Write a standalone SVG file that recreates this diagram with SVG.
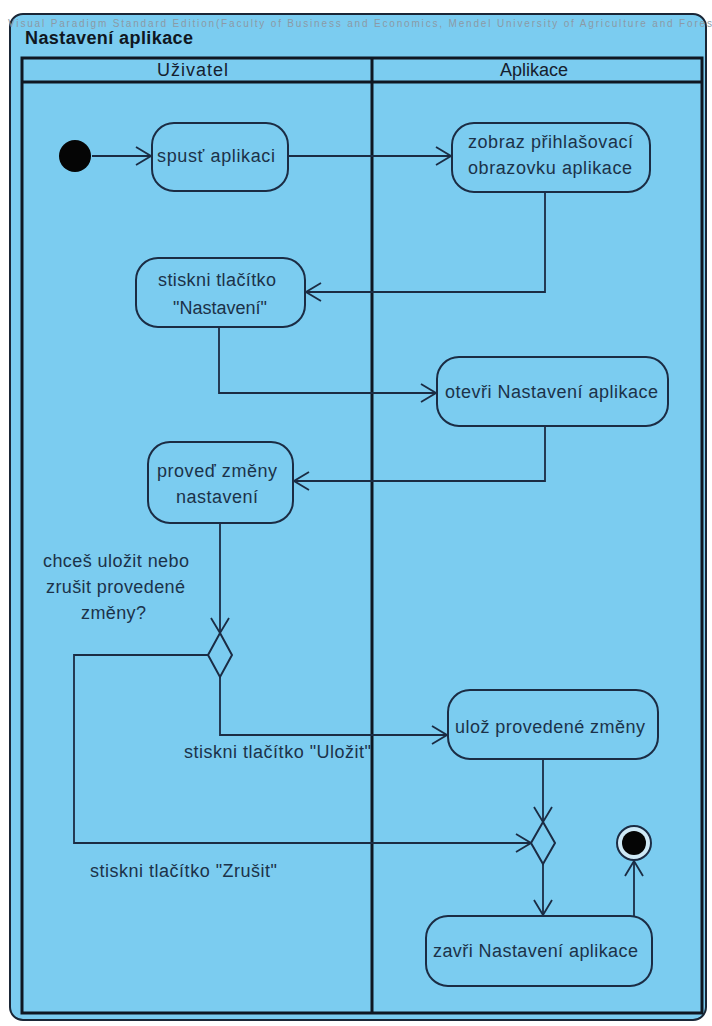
<svg xmlns="http://www.w3.org/2000/svg" width="712" height="1026" viewBox="0 0 712 1026">
  <style>
    .frame { fill: #7bccf0; stroke: #1a2636; stroke-width: 2; }
    .lane { fill: none; stroke: #0f1722; stroke-width: 3; }
    .act { fill: #7bccf0; stroke: #1b2c44; stroke-width: 2; }
    .edge { fill: none; stroke: #1b2c44; stroke-width: 1.8; }
    .lbl { font-family: "Liberation Sans", Arial, sans-serif; font-size: 18px; fill: #1c3249; }
    .hdr { font-family: "Liberation Sans", Arial, sans-serif; font-size: 18px; fill: #15202e; }
    .title { font-family: "Liberation Sans", Arial, sans-serif; font-size: 18px; font-weight: bold; fill: #0f1722; }
    .wm { font-family: "Liberation Sans", Arial, sans-serif; font-size: 10px; fill: #8b9aa6; }
  </style>
  <defs>
    <marker id="open" viewBox="-17 -11 18 22" refX="0" refY="0" markerWidth="18" markerHeight="22" markerUnits="userSpaceOnUse" orient="auto">
      <path d="M-15,-9 L0,0 L-15,9" fill="none" stroke="#1b2c44" stroke-width="1.8"/>
    </marker>
  </defs>

  <rect width="712" height="1026" fill="#ffffff"/>

  <!-- activity frame -->
  <rect class="frame" x="10" y="14" width="696" height="1006" rx="13"/>
  <text class="wm" x="8" y="27" textLength="704">Visual Paradigm Standard Edition(Faculty of Business and Economics, Mendel University of Agriculture and Fores</text>
  <text class="title" x="25" y="44" textLength="168">Nastavení aplikace</text>

  <!-- swimlanes -->
  <g id="lanes">
    <rect class="lane" x="22" y="58" width="680" height="955"/>
    <line class="lane" x1="22" y1="82" x2="702" y2="82"/>
    <line class="lane" x1="372" y1="58" x2="372" y2="1013"/>
    <text class="hdr" x="157" y="76" textLength="71">Uživatel</text>
    <text class="hdr" x="500" y="76" textLength="68">Aplikace</text>
  </g>

  <!-- connectors -->
  <g id="connectors">
    <path class="edge" d="M92,156 H151" marker-end="url(#open)"/>
    <path class="edge" d="M288,156 H451" marker-end="url(#open)"/>
    <path class="edge" d="M545,192 V292 H306" marker-end="url(#open)"/>
    <path class="edge" d="M219,327 V393 H436" marker-end="url(#open)"/>
    <path class="edge" d="M545,426 V481 H294" marker-end="url(#open)"/>
    <path class="edge" d="M220,523 V633" marker-end="url(#open)"/>
    <path class="edge" d="M220,677 V735 H447" marker-end="url(#open)"/>
    <path class="edge" d="M208,655 H74 V843 H531" marker-end="url(#open)"/>
    <path class="edge" d="M543,759 V822" marker-end="url(#open)"/>
    <path class="edge" d="M543,864 V915" marker-end="url(#open)"/>
    <path class="edge" d="M634,916 V861" marker-end="url(#open)"/>
    <text class="lbl" x="184" y="758" textLength="187">stiskni tlačítko "Uložit"</text>
    <text class="lbl" x="90" y="877" textLength="187">stiskni tlačítko "Zrušit"</text>
  </g>

  <!-- nodes -->
  <g id="start">
    <circle cx="75" cy="156" r="16" fill="#050505"/>
  </g>

  <g id="spust">
    <rect class="act" x="152" y="123" width="136" height="68" rx="22"/>
    <text class="lbl" x="157" y="162" textLength="118">spusť aplikaci</text>
  </g>

  <g id="zobraz">
    <rect class="act" x="452" y="123" width="198" height="69" rx="22"/>
    <text class="lbl" x="468" y="148" textLength="165">zobraz přihlašovací</text>
    <text class="lbl" x="468" y="174" textLength="164">obrazovku aplikace</text>
  </g>

  <g id="stiskni">
    <rect class="act" x="136" y="258" width="169" height="69" rx="22"/>
    <text class="lbl" x="158" y="286" textLength="118">stiskni tlačítko</text>
    <text class="lbl" x="173" y="314" textLength="94">"Nastavení"</text>
  </g>

  <g id="otevri">
    <rect class="act" x="437" y="357" width="231" height="69" rx="22"/>
    <text class="lbl" x="445" y="398" textLength="213">otevři Nastavení aplikace</text>
  </g>

  <g id="proved">
    <rect class="act" x="148" y="442" width="145" height="81" rx="22"/>
    <text class="lbl" x="157" y="477" textLength="120">proveď změny</text>
    <text class="lbl" x="176" y="503" textLength="82">nastavení</text>
  </g>

  <g id="decision">
    <path class="act" d="M220,633 L232,655 L220,677 L208,655 Z"/>
    <text class="lbl" x="43" y="567" textLength="146">chceš uložit nebo</text>
    <text class="lbl" x="46" y="593" textLength="139">zrušit provedené</text>
    <text class="lbl" x="81" y="619" textLength="65">změny?</text>
  </g>

  <g id="uloz">
    <rect class="act" x="448" y="690" width="210" height="69" rx="22"/>
    <text class="lbl" x="455" y="733" textLength="190">ulož provedené změny</text>
  </g>

  <g id="merge">
    <path class="act" d="M543,822 L555,843 L543,864 L531,843 Z"/>
  </g>

  <g id="zavri">
    <rect class="act" x="426" y="916" width="226" height="70" rx="22"/>
    <text class="lbl" x="433" y="957" textLength="205">zavři Nastavení aplikace</text>
  </g>

  <g id="end">
    <circle cx="634" cy="843" r="17" fill="#cfe9f6" stroke="#1b2c44" stroke-width="2"/>
    <circle cx="634" cy="843" r="12" fill="#050505"/>
  </g>
</svg>
